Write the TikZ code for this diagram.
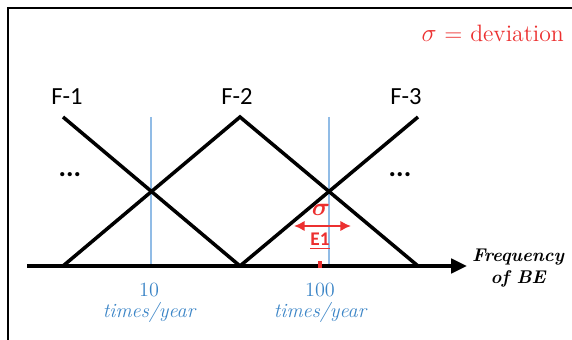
\documentclass[tikz,border=0pt]{standalone}
\usepackage{amsmath,amssymb}
\usepackage{fontspec}
\setsansfont{Carlito}
\usetikzlibrary{arrows.meta}
\definecolor{DevRed}{RGB}{236,48,48}
\definecolor{TickBlue}{RGB}{58,132,198}
\definecolor{GuideBlue}{RGB}{145,188,230}

\begin{document}
\begin{tikzpicture}[x=.02cm,y=.02cm,line width=1.6pt,font=\sffamily\fontsize{14}{16}\selectfont,
 every node/.style={inner sep=1pt},
 memb/.style={line width=2pt,line join=miter},
 guide/.style={GuideBlue,line width=.9pt},
 ticklbl/.style={TickBlue,font=\rmfamily\fontsize{11.5}{13.5}\selectfont},
 axlbl/.style={font=\rmfamily\bfseries\itshape\fontsize{10.5}{12.5}\selectfont,align=center}]
\useasboundingbox (0,0) rectangle (572,340);
\draw[line width=.8pt] (8,0) -- (8,332) -- (572,332);
\node[DevRed,anchor=east,font=\rmfamily\fontsize{13.5}{15}\selectfont] (legend) at (567,307) {$\sigma$ = deviation};
% corner points of the membership lines
\coordinate (a0) at (63,74);  \coordinate (a1) at (63,223);
\coordinate (b0) at (240,74); \coordinate (b1) at (240,223);
\coordinate (c0) at (418,74); \coordinate (c1) at (418,223);
% guides at 10 and 100
\draw[guide] (151,223) coordinate (g1) -- (151,74);
\draw[guide] (329,223) coordinate (g2) -- (329,74);
% axis
\coordinate (ax0) at (27,74);
\coordinate (ax1) at (467,74);
\draw[line width=2.5pt,-{Triangle[length=9pt,width=8pt]}] (ax0) -- (ax1);
\node[axlbl,anchor=west] (freq) at (469,72) {Frequency\\of BE};
% F-1, F-2, F-3
\draw[memb] (a1) -- (b0);
\draw[memb] (a0) -- (b1) -- (c0);
\draw[memb] (b0) -- (c1);
\node (f1) at (67,243) {F-1};
\node (f2) at (237,243) {F-2};
\node (f3) at (406,243) {F-3};
\node[font=\sffamily\bfseries\fontsize{16}{18}\selectfont] (dl) at (70,165) {...};
\node[font=\sffamily\bfseries\fontsize{16}{18}\selectfont] (dr) at (400,165) {...};
% tick labels
\node[ticklbl] (t10) at (149,50) {10};
\node[ticklbl,font=\rmfamily\itshape\fontsize{11.5}{13.5}\selectfont] (u10) at (149,28) {times/year};
\node[ticklbl] (t100) at (320,50) {100};
\node[ticklbl,font=\rmfamily\itshape\fontsize{11.5}{13.5}\selectfont] (u100) at (320,28) {times/year};
% E1 with its deviation
\node[DevRed,font=\rmfamily\fontsize{15}{17}\selectfont] (sig) at (321,130) {$\boldsymbol{\sigma}$};
\coordinate (sl) at (294,114);
\coordinate (sr) at (351,114);
\draw[DevRed,line width=1.6pt,{Latex[length=6pt,width=6pt]}-{Latex[length=6pt,width=6pt]}] (sl) -- (sr);
\node[DevRed,font=\sffamily\bfseries\fontsize{11}{13}\selectfont] (e1) at (320,99) {\underline{E1}};
\fill[DevRed] (318,72) rectangle (322,79);
\end{tikzpicture}
\end{document}
